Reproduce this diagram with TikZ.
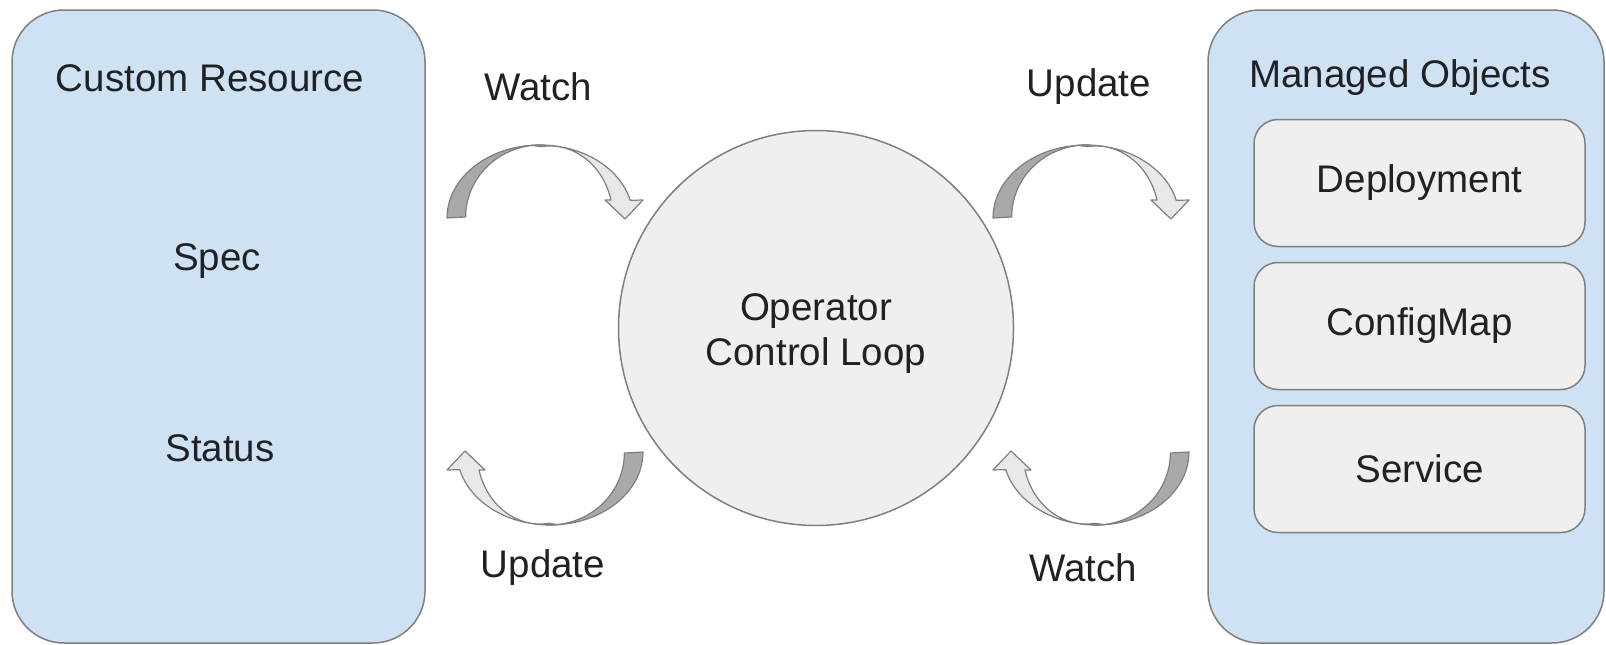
\documentclass[tikz,border=0pt]{standalone}
\usepackage{fontspec}
\setmainfont{Liberation Sans}
\definecolor{boxblue}{HTML}{CFE2F3}
\definecolor{boxgray}{HTML}{EFEFEF}
\definecolor{edge}{HTML}{7F7F7F}
\definecolor{txt}{HTML}{202124}
\definecolor{arrdark}{HTML}{A9A9A9}
\definecolor{arrlight}{HTML}{E8E8E8}
\usetikzlibrary{calc}
\tikzset{
  bigbox/.style={draw=edge, fill=boxblue, line width=1.5pt, rounded corners=52pt, inner sep=0pt},
  objbox/.style={draw=edge, fill=boxgray, line width=1.5pt, rounded corners=24pt, inner sep=0pt,
     minimum width=331pt, minimum height=127pt, font=\fontsize{38.5}{42}\selectfont, text=txt},
  lbl/.style={font=\fontsize{38.5}{42}\selectfont, text=txt, inner sep=0pt},
  loopcircle/.style={circle, draw=edge, fill=boxgray, line width=1.5pt, minimum size=395pt, inner sep=0pt},
  looptxt/.style={align=center, font=\fontsize{38.5}{45}\selectfont, text=txt, inner sep=0pt},
  arrpart/.style={draw=edge, line width=1.2pt, line join=round},
  curvedarrow/.pic={
    \path[arrpart, fill=arrlight]
      (265:93 and 73) arc[start angle=265, end angle=346, x radius=93, y radius=73]
      -- (103,-18) -- (85,1) -- (65,-18) -- ($(10,0)+(345.5:63 and 72)$)
      arc[start angle=345.5, end angle=262, x radius=63, y radius=72] -- cycle;
    \path[arrpart, fill=arrdark]
      (180:93 and 73) arc[start angle=180, end angle=272, x radius=93, y radius=73]
      arc[start angle=272, end angle=180, x radius=75, y radius=72] -- cycle;
  }
}
\begin{document}
\begin{tikzpicture}[x=1pt,y=-1pt]
\useasboundingbox (0,0) rectangle (1606,645);
\node[bigbox, minimum width=413pt, minimum height=633pt] (cr) at (218.5,326.5) {};
\node[bigbox, minimum width=396pt, minimum height=633pt] (mo) at (1406,326.5) {};
\node[lbl] (crt) at (210,78) {Custom Resource};
\node[lbl] (spec) at (217,261) {Spec};
\node[lbl] (status) at (220,448) {Status};
\node[lbl] (mot) at (1400,78) {Managed Objects};
\node[objbox] (dep) at (1419.5,183) {Deployment};
\node[objbox] (cm) at (1419.5,326) {ConfigMap};
\node[objbox] (svc) at (1419.5,469) {Service};
\node[loopcircle] (loop) at (816,328) {};
\node[looptxt] (looplabel) at (816,334) {Operator\\Control Loop};
\node[lbl] (w1) at (538,87) {Watch};
\node[lbl] (u1) at (1089,87) {Update};
\node[lbl] (u2) at (543,568) {Update};
\node[lbl] (w2) at (1083,568) {Watch};
\pic at (540,218) {curvedarrow};
\pic at (1086,218) {curvedarrow};
\pic[rotate=180] at (550,452) {curvedarrow};
\pic[rotate=180] at (1096,452) {curvedarrow};
\end{tikzpicture}
\end{document}
